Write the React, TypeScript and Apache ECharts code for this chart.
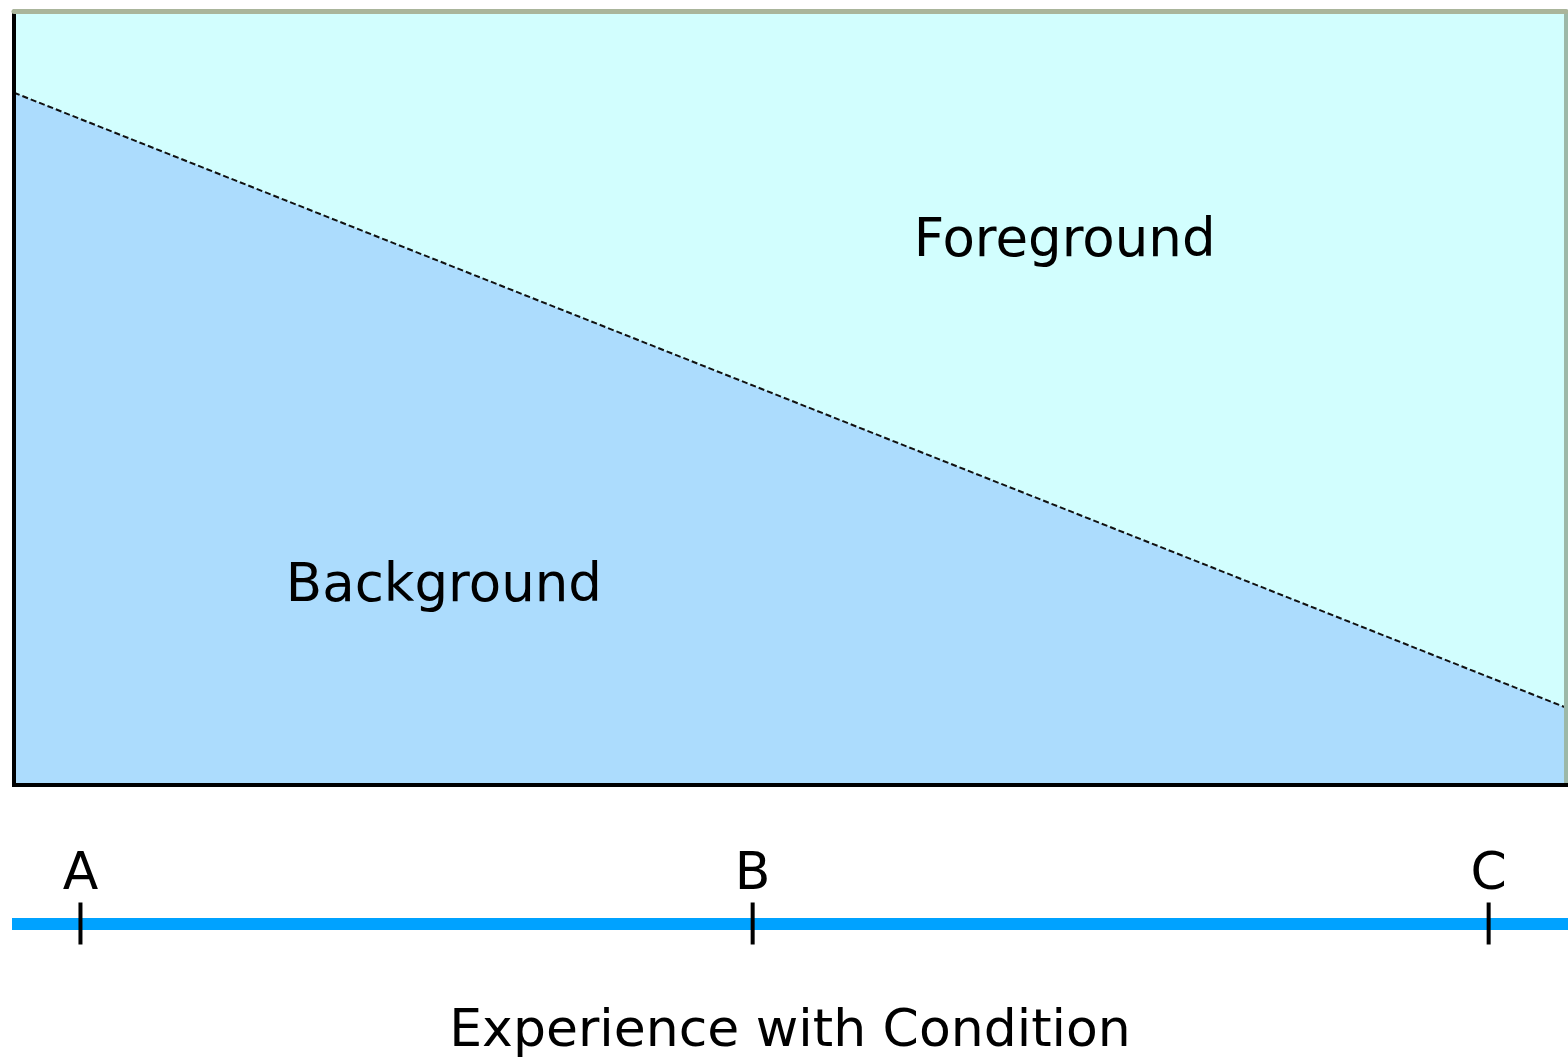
import React, { useEffect, useRef } from "react";
import * as echarts from "echarts";

// Boundary line between background (below) and foreground (above), % of height
const boundaryX = [0, 1];
const boundaryY = [89.5, 10];

// Region labels placed in data coordinates
const regionNames = ["Foreground", "Background"];
const regionX = [0.677, 0.277];
const regionY = [70.8, 26.2];

// Experience axis stages
const stageLabels = ["A", "B", "C"];
const stagePositions = [0.044, 0.476, 0.949];

const axisTitle = "Experience with Condition";

const FONT = "DejaVu Sans";

export default function App() {
  const ref = useRef<HTMLDivElement>(null);
  useEffect(() => {
    if (!ref.current) return;
    const chart = echarts.init(ref.current, null, { renderer: "svg" });
    const hidden = { show: false };
    chart.setOption({
      animation: false,
      backgroundColor: "#ffffff",
      grid: [
        {
          left: 14,
          right: 2,
          top: 11.5,
          bottom: 273,
          show: true,
          backgroundColor: "#d2fefe",
          borderWidth: 0,
          outerBoundsMode: "none",
          containLabel: false,
        },
        {
          left: 12,
          right: 0,
          top: 901.5,
          height: 44,
          outerBoundsMode: "none",
          containLabel: false,
        },
      ],
      xAxis: [
        {
          gridIndex: 0,
          type: "value",
          min: 0,
          max: 1,
          position: "bottom",
          z: 10,
          axisLine: { show: true, onZero: false, lineStyle: { color: "#000", width: 4, cap: "square" } },
          axisTick: hidden,
          axisLabel: hidden,
          splitLine: hidden,
        },
        {
          gridIndex: 0,
          type: "value",
          min: 0,
          max: 1,
          position: "top",
          z: 10,
          axisLine: { show: true, onZero: false, lineStyle: { color: "#aab59b", width: 5 } },
          axisTick: hidden,
          axisLabel: hidden,
          splitLine: hidden,
        },
        {
          gridIndex: 1,
          type: "value",
          min: 0,
          max: 1,
          axisLine: { show: true, onZero: true, lineStyle: { color: "#00a2ff", width: 12, cap: "butt" } },
          axisTick: hidden,
          axisLabel: hidden,
          splitLine: hidden,
          name: axisTitle,
          nameLocation: "middle",
          nameGap: 56,
          nameTextStyle: { fontFamily: FONT, fontSize: 52, lineHeight: 52, color: "#000" },
        },
      ],
      yAxis: [
        {
          gridIndex: 0,
          type: "value",
          min: 0,
          max: 100,
          position: "left",
          z: 10,
          axisLine: { show: true, onZero: false, lineStyle: { color: "#000", width: 4 } },
          axisTick: hidden,
          axisLabel: hidden,
          splitLine: hidden,
        },
        {
          gridIndex: 0,
          type: "value",
          min: 0,
          max: 100,
          position: "right",
          z: 10,
          axisLine: { show: true, onZero: false, lineStyle: { color: "#9cb8a8", width: 4 } },
          axisTick: hidden,
          axisLabel: hidden,
          splitLine: hidden,
        },
        {
          gridIndex: 1,
          type: "value",
          min: -1,
          max: 1,
          axisLine: hidden,
          axisTick: hidden,
          axisLabel: hidden,
          splitLine: hidden,
        },
      ],
      series: [
        {
          type: "line",
          xAxisIndex: 0,
          yAxisIndex: 0,
          data: boundaryX.map((x, i) => [x, boundaryY[i]]),
          symbol: "none",
          lineStyle: { color: "#111", width: 2, type: [6, 3] },
          areaStyle: { color: "#acdcfd", opacity: 1, origin: "start" },
          z: 2,
        },
        {
          type: "scatter",
          xAxisIndex: 0,
          yAxisIndex: 0,
          data: regionNames.map((n, i) => ({ name: n, value: [regionX[i], regionY[i]] })),
          symbolSize: 0,
          itemStyle: { opacity: 1 },
          label: {
            show: true,
            position: "inside",
            formatter: (p: any) => p.name,
            fontFamily: FONT,
            fontSize: 53,
            color: "#000",
          },
          z: 3,
        },
        {
          type: "scatter",
          xAxisIndex: 2,
          yAxisIndex: 2,
          data: stageLabels.map((n, i) => ({ name: n, value: [stagePositions[i], 0] })),
          symbol: "rect",
          symbolSize: [4, 42],
          itemStyle: { color: "#000", opacity: 1 },
          label: {
            show: true,
            position: "top",
            distance: 6,
            formatter: (p: any) => p.name,
            fontFamily: FONT,
            fontSize: 52,
            color: "#000",
          },
          z: 3,
        },
      ],
    });
    return () => chart.dispose();
  }, []);
  return (
    <div
      ref={ref}
      style={{ position: "fixed", left: 0, top: 0, width: 1568, height: 1058 }}
    />
  );
}
